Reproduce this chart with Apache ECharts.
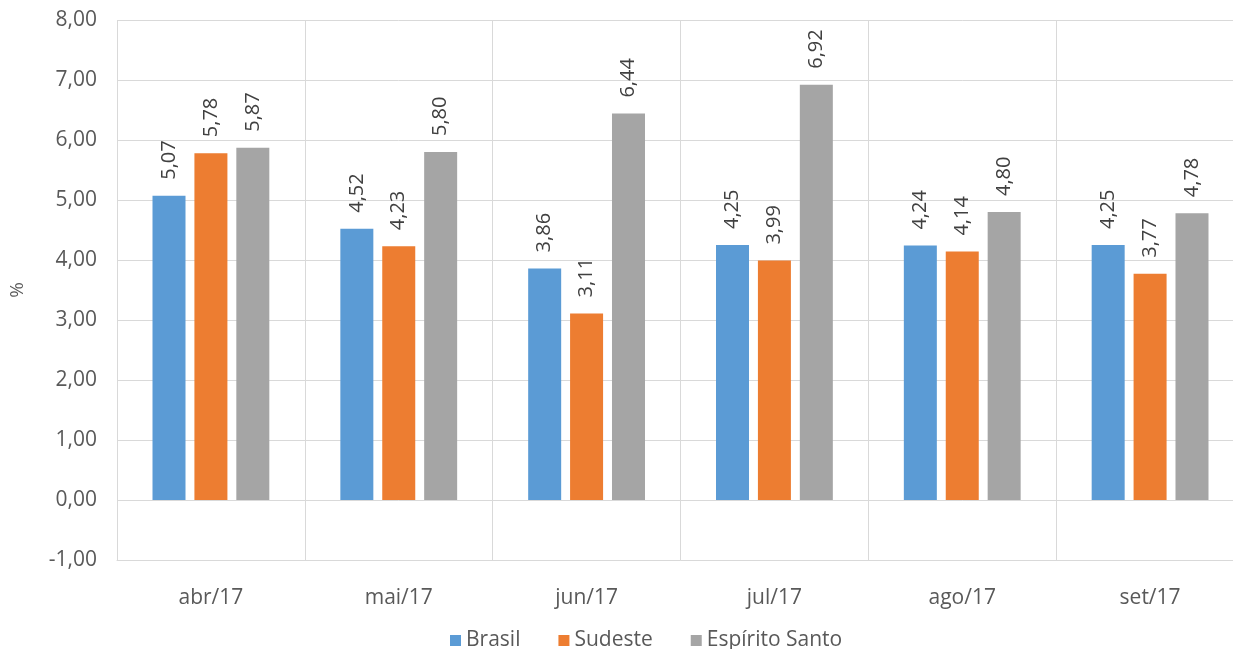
<!DOCTYPE html>
<html>
<head>
<meta charset="utf-8">
<script src="https://cdn.jsdelivr.net/npm/echarts@6/dist/echarts.min.js"></script>
<style>
  html, body { margin: 0; padding: 0; background: #fff; overflow: hidden; }
  #chart { width: 1244px; height: 649px; }
</style>
</head>
<body>
<div id="chart"></div>
<script>
var categories = ['abr/17', 'mai/17', 'jun/17', 'jul/17', 'ago/17', 'set/17'];
var brasil = [5.07, 4.52, 3.86, 4.25, 4.24, 4.25];
var sudeste = [5.78, 4.23, 3.11, 3.99, 4.14, 3.77];
var espiritoSanto = [5.87, 5.80, 6.44, 6.92, 4.80, 4.78];

var font = '"Open Sans", "Noto Sans", sans-serif';

function comma (v) {
    return Number(v).toFixed(2).replace('.', ',');
}

function makeSeries (name, data, color) {
    return {
        name: name,
        type: 'bar',
        data: data,
        barWidth: 33,
        barGap: '27%',
        itemStyle: { color: color },
        label: {
            show: true,
            position: 'top',
            rotate: 90,
            align: 'left',
            verticalAlign: 'middle',
            distance: 16,
            color: '#404040',
            fontSize: 20,
            fontFamily: font,
            formatter: function (p) { return comma(p.value); }
        }
    };
}

var chart = echarts.init(document.getElementById('chart'));
chart.setOption({
    animation: false,
    textStyle: { fontFamily: font },
    grid: { left: 116, top: 20, right: 0, height: 540, containLabel: false },
    legend: {
        top: 625,
        left: 445,
        itemWidth: 11,
        itemHeight: 11,
        itemGap: 38,
        icon: 'rect',
        textStyle: { color: '#595959', fontSize: 21, fontFamily: font },
        data: ['Brasil', 'Sudeste', 'Espírito Santo']
    },
    xAxis: {
        type: 'category',
        data: categories,
        axisLine: { onZero: false, lineStyle: { color: '#d9d9d9' } },
        axisTick: { show: false },
        axisLabel: { color: '#595959', fontSize: 21, fontFamily: font, margin: 28 },
        splitLine: { show: true, lineStyle: { color: '#d9d9d9' } }
    },
    yAxis: {
        type: 'value',
        min: -1,
        max: 8,
        interval: 1,
        name: '%',
        nameLocation: 'middle',
        nameGap: 90,
        nameTextStyle: { color: '#595959', fontSize: 19, fontFamily: font },
        axisLine: { show: false },
        axisTick: { show: false },
        axisLabel: {
            color: '#595959', fontSize: 21, fontFamily: font, margin: 20,
            formatter: comma
        },
        splitLine: { lineStyle: { color: '#d9d9d9' } }
    },
    series: [
        makeSeries('Brasil', brasil, '#5b9bd5'),
        makeSeries('Sudeste', sudeste, '#ed7d31'),
        makeSeries('Espírito Santo', espiritoSanto, '#a5a5a5')
    ]
});
</script>
</body>
</html>
